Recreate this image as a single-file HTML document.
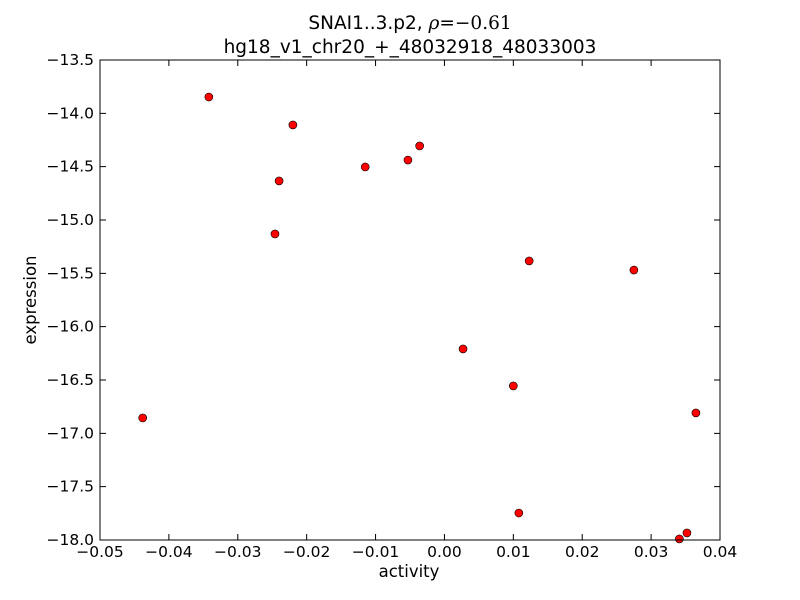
<!DOCTYPE html>
<html><head><meta charset="utf-8"><style>body{margin:0;background:#fff}svg{display:block;font-family:"DejaVu Sans","Liberation Sans",sans-serif}</style></head>
<body>
<svg id="c" width="800" height="600">
<rect width="800" height="600" fill="#fff"/>
<text x="410" y="29" text-anchor="middle" font-size="18.5">SNAI1..3.p2, <tspan font-family="DejaVu Serif" font-style="italic">ρ</tspan><tspan font-family="DejaVu Serif">=−0.61</tspan></text>
<text x="410" y="53" text-anchor="middle" font-size="18.5">hg18_v1_chr20_+_48032918_48033003</text>
<text x="409" y="577" text-anchor="middle" font-size="16.5">activity</text>
<text x="36" y="300" text-anchor="middle" font-size="16.5" transform="rotate(-90 36 300)">expression</text>
<g id="ticks"></g><g id="pts"></g>
<rect x="100" y="60" width="620" height="480" fill="none" stroke="#000" stroke-width="1"/>
</svg>
<script>
const xs=[-0.0342,-0.0220,-0.0240,-0.0246,-0.0115,-0.0053,-0.0036,0.0123,0.0275,0.0027,0.0100,-0.0438,0.0365,0.0108,0.0352,0.0341];
const ys=[-13.847,-14.109,-14.634,-15.131,-14.503,-14.438,-14.306,-15.384,-15.469,-16.209,-16.556,-16.856,-16.809,-17.747,-17.934,-17.99];
const xTicks=[-0.05,-0.04,-0.03,-0.02,-0.01,0,0.01,0.02,0.03,0.04];
const xTickLabels=["−0.05","−0.04","−0.03","−0.02","−0.01","0.00","0.01","0.02","0.03","0.04"];
const yTicks=[-13.5,-14,-14.5,-15,-15.5,-16,-16.5,-17,-17.5,-18];
const yTickLabels=["−13.5","−14.0","−14.5","−15.0","−15.5","−16.0","−16.5","−17.0","−17.5","−18.0"];
const X=v=>100+(v+0.05)/0.09*620, Y=v=>60+(-13.5-v)/4.5*480;
const NS="http://www.w3.org/2000/svg";
const tg=document.getElementById('ticks'), pg=document.getElementById('pts');
function mk(t,a,p){const e=document.createElementNS(NS,t);for(const k in a)e.setAttribute(k,a[k]);p.appendChild(e);return e;}
xTicks.forEach((v,i)=>{const x=X(v);
 let l=mk('path',{d:`M${x},540v-6M${x},60v6`,stroke:'#000'},tg);
 
 
 let t=mk('text',{x:x,y:557,'text-anchor':'middle','font-size':15.5},tg);t.textContent=xTickLabels[i];
 
 });
yTicks.forEach((v,i)=>{const y=Y(v);
 let l=mk('path',{d:`M100,${y}h6M720,${y}h-6`,stroke:'#000'},tg);
 
 
 let t=mk('text',{x:94,y:y+5,'text-anchor':'end','font-size':15.5},tg);t.textContent=yTickLabels[i];
 
 });
xs.forEach((v,i)=>{let c=mk('circle',{cx:X(v),cy:Y(ys[i]),r:4,fill:'#f00',stroke:'#000','stroke-width':0.6},pg);
 
 });
</script>
</body></html>
